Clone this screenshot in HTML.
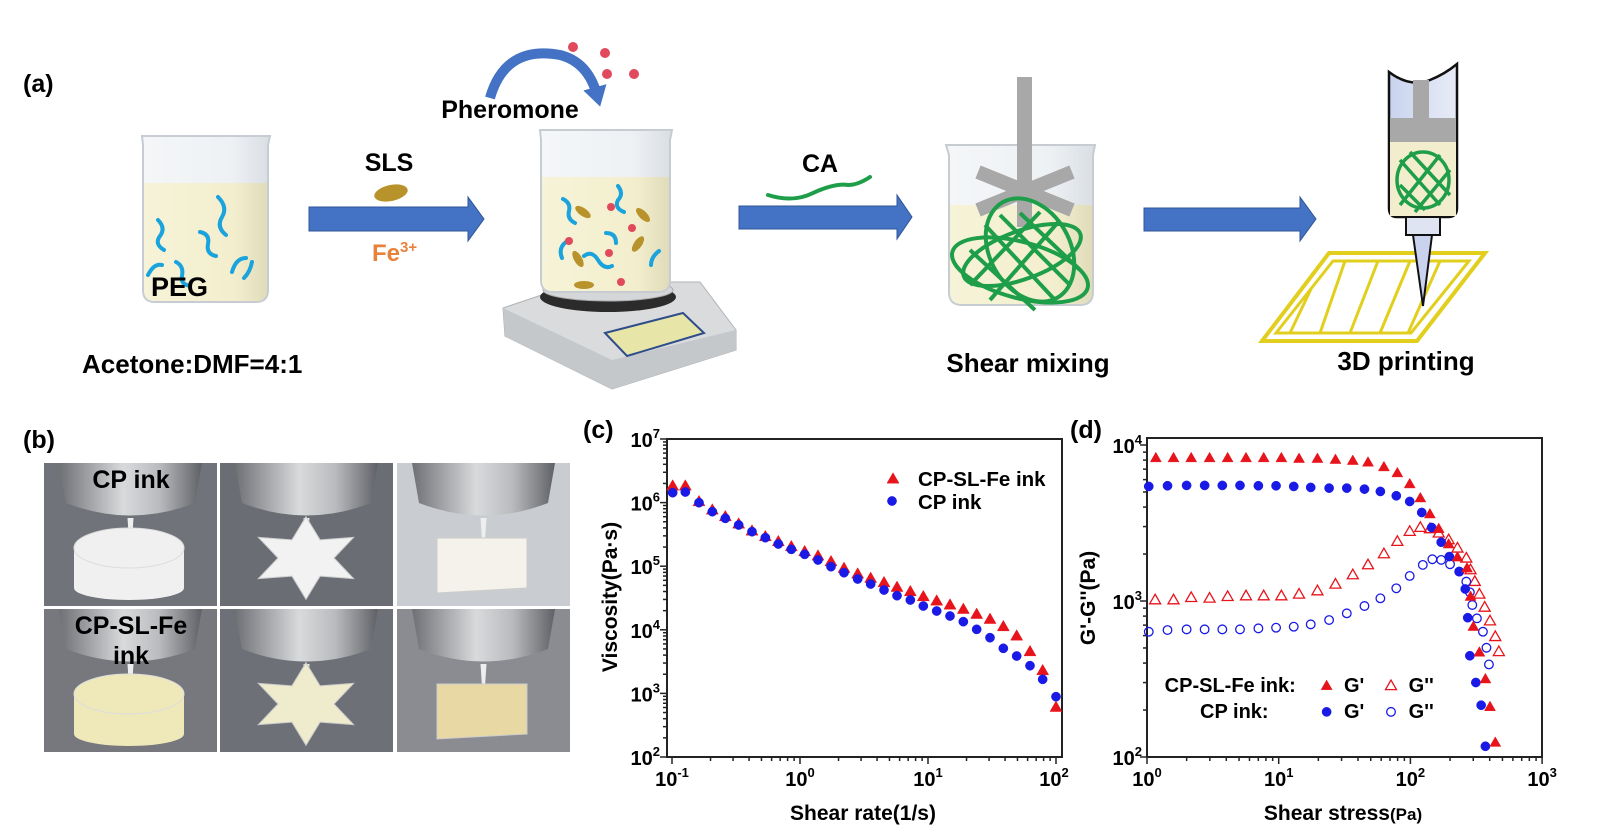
<!DOCTYPE html>
<html><head><meta charset="utf-8"><style>
html,body{margin:0;padding:0;background:#fff;}
svg{display:block;font-family:"Liberation Sans",Arial,sans-serif;}
.b{font-weight:bold;}
</style></head><body>
<svg id="s" width="1614" height="839" viewBox="0 0 1614 839" xmlns="http://www.w3.org/2000/svg">
<defs>
<linearGradient id="glass" x1="0" x2="1"><stop offset="0" stop-color="#f4f6f8"/><stop offset="0.7" stop-color="#eef1f4"/><stop offset="1" stop-color="#d9dee3"/></linearGradient>
<linearGradient id="liq" x1="0" x2="1"><stop offset="0" stop-color="#f7f3d8"/><stop offset="0.75" stop-color="#f2eecd"/><stop offset="1" stop-color="#e0dcba"/></linearGradient>
<linearGradient id="metal" x1="0" x2="1"><stop offset="0" stop-color="#6e7075"/><stop offset="0.45" stop-color="#d8dadc"/><stop offset="0.7" stop-color="#b9bbbe"/><stop offset="1" stop-color="#5f6166"/></linearGradient>
<linearGradient id="syr" x1="0" x2="1"><stop offset="0" stop-color="#c9d3ee"/><stop offset="1" stop-color="#e8ecf7"/></linearGradient>
<marker id="ah" viewBox="0 0 6 6" markerWidth="2.4" markerHeight="2.4" refX="2" refY="3" orient="auto"><path d="M0,0 L5,3 L0,6 z" fill="#4472c4"/></marker>
</defs>

<text x="23" y="92" class="b" font-size="25">(a)</text>

<g>
<path d="M142,136 L270,136 L268,145 L268,290 Q268,302 256,302 L155,302 Q143,302 143,290 L143,145 Z" fill="url(#glass)" stroke="#c6ccd2" stroke-width="2"/>
<path d="M144,183 L267,183 L267,290 Q267,301 256,301 L155,301 Q144,301 144,290 Z" fill="url(#liq)"/>
<g stroke="#1aa3dc" stroke-width="4" fill="none" stroke-linecap="round">
<path d="M158,220 q8,8 2,16 q-6,8 4,14"/><path d="M218,197 q10,10 4,20 q-6,10 4,18"/>
<path d="M200,232 q10,2 8,12 q-2,10 8,12"/><path d="M148,275 q6,-12 14,-10"/>
<path d="M176,262 q8,4 6,14 q-2,8 8,10"/><path d="M232,272 q4,-14 14,-14"/><path d="M252,262 q-2,10 -8,16"/>
</g>
<text x="151" y="296" class="b" font-size="27">PEG</text>
</g>
<text x="82" y="373" class="b" font-size="26">Acetone:DMF=4:1</text>

<path d="M309,207 L468,207 L468,197 L484,219 L468,241 L468,231 L309,231 Z" fill="#4472c4" stroke="#2f5597" stroke-width="1"/>
<text x="389" y="171" class="b" font-size="25" text-anchor="middle">SLS</text>
<ellipse cx="391" cy="193" rx="17" ry="8" fill="#b8922a" transform="rotate(-12 391 193)"/>
<text x="372" y="261" class="b" font-size="24" fill="#e8823a">Fe<tspan font-size="15" dy="-9">3+</tspan></text>

<path d="M503,308 L580,282 L700,282 L736,330 L736,350 L612,389 L505,336 Z" fill="#d9dbdd" stroke="#b0b3b6"/>
<path d="M503,308 L612,360 L736,330 L736,350 L612,389 L505,336 Z" fill="#c5c8cb"/>
<ellipse cx="608" cy="297" rx="68" ry="15" fill="#2b2b2b"/>
<ellipse cx="608" cy="290" rx="65" ry="11" fill="#d4d6d8" stroke="#aaa"/>
<path d="M605,333 L683,313 L704,333 L627,356 Z" fill="#e7e6a8" stroke="#2f4d8a" stroke-width="2"/>

<path d="M540,130 L672,130 L670,140 L670,280 Q670,292 658,292 L553,292 Q541,292 541,280 L541,140 Z" fill="url(#glass)" stroke="#c6ccd2" stroke-width="2"/>
<path d="M542,177 L669,177 L669,280 Q669,291 658,291 L553,291 Q542,291 542,280 Z" fill="url(#liq)"/>
<g stroke="#1aa3dc" stroke-width="4" fill="none" stroke-linecap="round">
<path d="M563,199 q8,4 6,12 q-2,8 6,12"/><path d="M618,186 q6,8 0,14 q-4,8 6,12"/><path d="M606,233 q10,0 10,10"/>
<path d="M562,258 q-4,-10 4,-16"/><path d="M584,256 q8,-6 14,4 q6,10 14,6"/><path d="M651,265 q0,-8 8,-14"/>
</g>
<g fill="#b8922a"><ellipse cx="583" cy="212" rx="9" ry="4" transform="rotate(35 583 212)"/><ellipse cx="643" cy="215" rx="9" ry="4" transform="rotate(45 643 215)"/><ellipse cx="638" cy="244" rx="9" ry="4" transform="rotate(-55 638 244)"/><ellipse cx="578" cy="259" rx="9" ry="4" transform="rotate(60 578 259)"/><ellipse cx="584" cy="285" rx="10" ry="4"/></g>
<g fill="#e04a5c"><circle cx="611" cy="207" r="4"/><circle cx="632" cy="228" r="4"/><circle cx="569" cy="241" r="4"/><circle cx="609" cy="253" r="4"/><circle cx="621" cy="282" r="4"/></g>
<path d="M490,98 Q505,45 560,55 Q588,62 597,95" fill="none" stroke="#4472c4" stroke-width="10" marker-end="url(#ah)"/>
<g fill="#e04a5c"><circle cx="573" cy="47" r="5"/><circle cx="605" cy="53" r="5"/><circle cx="607" cy="74" r="5"/><circle cx="634" cy="74" r="5"/></g>
<text x="510" y="118" class="b" font-size="25" text-anchor="middle">Pheromone</text>

<path d="M739,206 L897,206 L897,195 L912,217 L897,239 L897,229 L739,229 Z" fill="#4472c4" stroke="#2f5597" stroke-width="1"/>
<text x="820" y="172" class="b" font-size="25" text-anchor="middle">CA</text>
<path d="M768,195 q25,8 45,-2 q22,-10 35,-8 q10,0 22,-8" fill="none" stroke="#1f9e4a" stroke-width="4" stroke-linecap="round"/>

<path d="M946,145 L1095,145 L1093,155 L1093,292 Q1093,305 1080,305 L962,305 Q949,305 949,292 L949,155 Z" fill="url(#glass)" stroke="#c6ccd2" stroke-width="2"/>
<path d="M950,205 L1092,205 L1092,292 Q1092,304 1080,304 L962,304 Q950,304 950,292 Z" fill="url(#liq)"/>
<rect x="1017" y="77" width="15" height="150" fill="#a9a8a8"/>
<path d="M978,172 L1072,210 M978,210 L1072,172" stroke="#a9a8a8" stroke-width="14"/>
<g stroke="#1f9e4a" stroke-width="4" fill="none">
<ellipse cx="1022" cy="255" rx="62" ry="24" transform="rotate(-20 1022 255)"/>
<ellipse cx="1030" cy="250" rx="40" ry="55" transform="rotate(-30 1030 250)"/>
<ellipse cx="1020" cy="270" rx="70" ry="28" transform="rotate(15 1020 270)"/>
<path d="M985,225 L1055,300 M1000,215 L1070,285 M1020,213 L1080,270 M970,250 L1035,310 M1060,220 L990,300 M1040,212 L970,285"/>
</g>
<text x="1028" y="372" class="b" font-size="26" text-anchor="middle">Shear mixing</text>

<path d="M1144,208 L1300,208 L1300,197 L1316,219 L1300,241 L1300,231 L1144,231 Z" fill="#4472c4" stroke="#2f5597" stroke-width="1"/>

<path d="M1262,341 L1329,253 L1485,253 L1417,341 Z" fill="none" stroke="#e2cf1d" stroke-width="4"/>
<path d="M1276,333 L1333,261 L1469,261 L1411,333 Z" fill="none" stroke="#e2cf1d" stroke-width="3"/>
<g stroke="#e2cf1d" stroke-width="3"><path d="M1290,333 L1311,289 M1320,333 L1345,261 M1350,333 L1378,261 M1380,333 L1410,261 M1408,333 L1440,261"/></g>
<path d="M1389,72 Q1410,88 1430,80 Q1445,74 1457,64 L1457,208 Q1457,217 1448,217 L1397,217 Q1389,217 1389,208 Z" fill="url(#syr)" stroke="#111" stroke-width="2.5"/>
<rect x="1390" y="118" width="66" height="24" fill="#a9a8a8"/><rect x="1413" y="80" width="16" height="40" fill="#a9a8a8"/>
<rect x="1390" y="142" width="66" height="74" fill="#f2eecd"/>
<g stroke="#1f9e4a" stroke-width="3.5" fill="none"><ellipse cx="1423" cy="180" rx="26" ry="28"/><path d="M1400,160 L1440,205 M1410,152 L1450,195 M1400,185 L1425,210 M1440,155 L1400,205 M1450,170 L1415,212"/></g>
<rect x="1406" y="217" width="34" height="18" fill="#dfe4f2" stroke="#111" stroke-width="2"/>
<path d="M1413,235 L1432,235 L1423,306 Z" fill="#c9d3ee" stroke="#111" stroke-width="2"/>
<text x="1406" y="370" class="b" font-size="26" text-anchor="middle">3D printing</text>

<text x="23" y="448" class="b" font-size="25">(b)</text>
<g id="photos"></g>

<text x="583" y="438" class="b" font-size="25">(c)</text>
<g id="cc"></g>
<text x="1070" y="438" class="b" font-size="25">(d)</text>
<g id="dd"></g>
</svg>
<script>
var NS="http://www.w3.org/2000/svg";
function el(p,t,a,txt){var e=document.createElementNS(NS,t);for(var k in a)e.setAttribute(k,a[k]);if(txt!=null)e.textContent=txt;p.appendChild(e);return e;}
var ph=document.getElementById('photos');
var cols=[44,220,397],w=173,rows=[463,609],h=143;
var bgs=[["#707379","#6a6d74","#c9ccd1"],["#76787e","#6e7078","#8a8c92"]];
var obj=[["#f0f0f0","#f2f2f2","#f4f2ea"],["#efe8b8","#eeeccc","#e8d8a4"]];
for(var r=0;r<2;r++)for(var c=0;c<3;c++){
 var x=cols[c],y=rows[r];
 el(ph,'rect',{x:x,y:y,width:w,height:h,fill:bgs[r][c]});
 el(ph,'path',{d:'M'+(x+15)+','+y+' L'+(x+w-15)+','+y+' L'+(x+w-22)+','+(y+40)+' Q'+(x+w/2)+','+(y+65)+' '+(x+22)+','+(y+40)+' Z',fill:'url(#metal)'});
 el(ph,'path',{d:'M'+(x+w/2-3)+','+(y+55)+' L'+(x+w/2+3)+','+(y+55)+' L'+(x+w/2+1)+','+(y+85)+' L'+(x+w/2-1)+','+(y+85)+'Z',fill:'#eee'});
 var o=obj[r][c];
 if(c==0){el(ph,'rect',{x:x+30,y:y+85,width:110,height:40,fill:o});el(ph,'ellipse',{cx:x+85,cy:y+85,rx:55,ry:20,fill:o,stroke:'#ddd'});el(ph,'ellipse',{cx:x+85,cy:y+125,rx:55,ry:12,fill:o});}
 if(c==1){var cx=x+86,cy=y+95,pts=[];for(var i=0;i<12;i++){var rr=i%2?28:55,a=Math.PI/6*i-Math.PI/2;pts.push((cx+rr*Math.cos(a))+','+(cy+rr*Math.sin(a)*0.75));}el(ph,'polygon',{points:pts.join(' '),fill:o,stroke:'#ccc'});}
 if(c==2){el(ph,'path',{d:'M'+(x+40)+','+(y+75)+' L'+(x+130)+','+(y+75)+' L'+(x+130)+','+(y+125)+' L'+(x+40)+','+(y+130)+'Z',fill:o,stroke:'#ccc'});}
}
el(ph,'text',{x:131,y:488,'class':'b','font-size':25,'text-anchor':'middle'},'CP ink');
el(ph,'text',{x:131,y:634,'class':'b','font-size':25,'text-anchor':'middle'},'CP-SL-Fe');
el(ph,'text',{x:131,y:664,'class':'b','font-size':25,'text-anchor':'middle'},'ink');

function tri(g,x,y,s,fill,open){var hh=s*0.87;el(g,'path',{d:'M'+x+','+(y-hh*0.6)+' L'+(x+s/2)+','+(y+hh*0.4)+' L'+(x-s/2)+','+(y+hh*0.4)+'Z',fill:open?'none':fill,stroke:fill,'stroke-width':open?1.3:0.5});}
function circ(g,x,y,r,fill,open){el(g,'circle',{cx:x,cy:y,r:r,fill:open?'none':fill,stroke:fill,'stroke-width':open?1.3:0.5});}
function tl(g,x,y,exp,anchor){var t=el(g,'text',{x:x,y:y,'font-size':20,'text-anchor':anchor||'middle','font-weight':'bold'});t.appendChild(document.createTextNode('10'));el(t,'tspan',{dy:-9,'font-size':13},exp);return t;}
function axes(g,L,R,T,B,xd,yd,fx,fy){
 el(g,'rect',{x:L,y:T,width:R-L,height:B-T,fill:'none',stroke:'#222','stroke-width':2});
 for(var d=xd[0];d<=xd[1];d++){for(var m=1;m<10;m++){var v=d+Math.log10(m);var px=fx(v);if(px<L-0.5||px>R+0.5)continue;el(g,'line',{x1:px,x2:px,y1:B,y2:B+(m==1?7:4),stroke:'#222','stroke-width':1.5});if(d==xd[1])break;}}
 for(var d=yd[0];d<=yd[1];d++){for(var m=1;m<10;m++){var v=d+Math.log10(m);var py=fy(v);if(py<T-0.5||py>B+0.5)continue;el(g,'line',{x1:L,x2:L-(m==1?7:4),y1:py,y2:py,stroke:'#222','stroke-width':1.5});if(d==yd[1])break;}}
}
var gc=document.getElementById('cc');
var cfx=function(v){return 672+(v+1)*128;}, cfy=function(v){return 757-(v-2)*63.6;};
axes(gc,667,1062,439,757,[-1,2],[2,7],cfx,cfy);
for(var e=2;e<=7;e++)tl(gc,660,cfy(e)+8,e,'end');
for(var e=-1;e<=2;e++)tl(gc,cfx(e)+(e==2?-2:0),786,e);
var red=[[278,258],[316,258],[357,305],[397,330],[436,350],[476,372],[516,393],[556,410],[595,425],[634,440],[674,455],[714,468],[753,485],[792,505],[833,522],[872,535],[912,548],[951,562],[991,575],[1030,590],[1070,603],[1110,615],[1150,628],[1190,643],[1230,658],[1270,680],[1310,708],[1350,755],[1388,812],[1428,922]];
var blue=[[278,278],[316,276],[357,308],[397,335],[436,355],[476,375],[516,395],[556,413],[595,432],[634,448],[674,463],[714,480],[753,500],[792,518],[833,537],[872,552],[912,570],[951,587],[991,600],[1030,618],[1070,633],[1110,648],[1150,665],[1190,688],[1230,713],[1270,745],[1310,768],[1350,797],[1388,838],[1428,890]];
red.forEach(function(p){tri(gc,580+p[0]/3,400+p[1]/3,12,'#e8141b');});
blue.forEach(function(p){circ(gc,580+p[0]/3,400+p[1]/3,4.6,'#1a1ae6');});
tri(gc,893,479,12,'#e8141b');el(gc,'text',{x:918,y:486,'font-size':20.5,'class':'b'},'CP-SL-Fe ink');
circ(gc,892,501,4.6,'#1a1ae6');el(gc,'text',{x:918,y:509,'font-size':20.5,'class':'b'},'CP ink');
el(gc,'text',{x:0,y:0,'font-size':21,'class':'b','text-anchor':'middle',transform:'translate(617,597) rotate(-90)'},'Viscosity(Pa·s)');
el(gc,'text',{x:863,y:820,'font-size':21,'class':'b','text-anchor':'middle'},'Shear rate(1/s)');
var gd=document.getElementById('dd');
var dfx=function(v){return 1147+v*131.7;}, dfy=function(v){return 757-(v-2)*156;};
axes(gd,1147,1542,438,757,[0,3],[2,4],dfx,dfy);
for(var e=2;e<=4;e++)tl(gd,1142,dfy(e)+8,e,'end');
for(var e=0;e<=3;e++)tl(gd,dfx(e),786,e);
function dx(z){return 1147+(z-255)*0.3536;} function dy(z){return 438+(z-110)*0.334;}
var rf=[[280,170],[330,170],[380,170],[432,170],[483,170],[535,170],[585,170],[635,170],[685,172],[737,172],[788,175],[837,178],[880,183],[925,197],[963,215],[998,248],[1028,290],[1055,338],[1080,382],[1108,428],[1133,467],[1160,500],[1170,585],[1178,675],[1195,752],[1212,832],[1225,915],[1240,1022]];
var ro=[[278,595],[330,595],[380,588],[432,590],[483,585],[535,583],[585,583],[635,583],[685,578],[737,568],[788,548],[837,520],[880,490],[925,457],[963,420],[998,390],[1028,378],[1055,382],[1080,395],[1108,415],[1133,440],[1158,470],[1170,505],[1182,540],[1195,578],[1210,617],[1225,658],[1240,705],[1250,750]];
var bf=[[260,255],[313,253],[367,252],[418,252],[468,252],[518,252],[570,253],[620,253],[670,255],[718,258],[770,260],[820,260],[870,263],[915,270],[960,283],[998,300],[1032,333],[1060,378],[1087,422],[1110,465],[1138,510],[1155,562],[1162,648],[1168,762],[1185,842],[1200,910],[1212,1033]];
var bo=[[260,690],[313,685],[367,683],[418,683],[468,683],[518,683],[570,680],[620,678],[670,675],[718,668],[770,655],[820,635],[870,613],[915,590],[960,560],[998,523],[1035,490],[1062,473],[1087,475],[1112,488],[1138,510],[1158,540],[1168,572],[1175,610],[1188,650],[1205,690],[1215,738],[1222,788]];
ro.forEach(function(p){tri(gd,dx(p[0]),dy(p[1]),11,'#e8141b',true);});
bo.forEach(function(p){circ(gd,dx(p[0]),dy(p[1]),4.3,'#1a1ae6',true);});
bf.forEach(function(p){circ(gd,dx(p[0]),dy(p[1]),4.6,'#1a1ae6');});
rf.forEach(function(p){tri(gd,dx(p[0]),dy(p[1]),11,'#e8141b');});
var fs=20;
el(gd,'text',{x:dx(305),y:dy(850)+7,'font-size':fs,'class':'b'},'CP-SL-Fe ink:');
tri(gd,dx(763),dy(852),11,'#e8141b');el(gd,'text',{x:dx(812),y:dy(850)+7,'font-size':fs,'class':'b'},"G'");
tri(gd,dx(945),dy(852),11,'#e8141b',true);el(gd,'text',{x:dx(995),y:dy(850)+7,'font-size':fs,'class':'b'},"G''");
el(gd,'text',{x:dx(405),y:dy(928)+7,'font-size':fs,'class':'b'},'CP ink:');
circ(gd,dx(763),dy(930),4.6,'#1a1ae6');el(gd,'text',{x:dx(812),y:dy(928)+7,'font-size':fs,'class':'b'},"G'");
circ(gd,dx(945),dy(930),4.3,'#1a1ae6',true);el(gd,'text',{x:dx(995),y:dy(928)+7,'font-size':fs,'class':'b'},"G''");
el(gd,'text',{x:0,y:0,'font-size':21,'class':'b','text-anchor':'middle',transform:'translate(1095,598) rotate(-90)'},"G'-G''(Pa)");
var xl=el(gd,'text',{x:1343,y:820,'font-size':21,'class':'b','text-anchor':'middle'});xl.appendChild(document.createTextNode('Shear stress'));el(xl,'tspan',{'font-size':17},'(Pa)');
</script>
</body></html>
